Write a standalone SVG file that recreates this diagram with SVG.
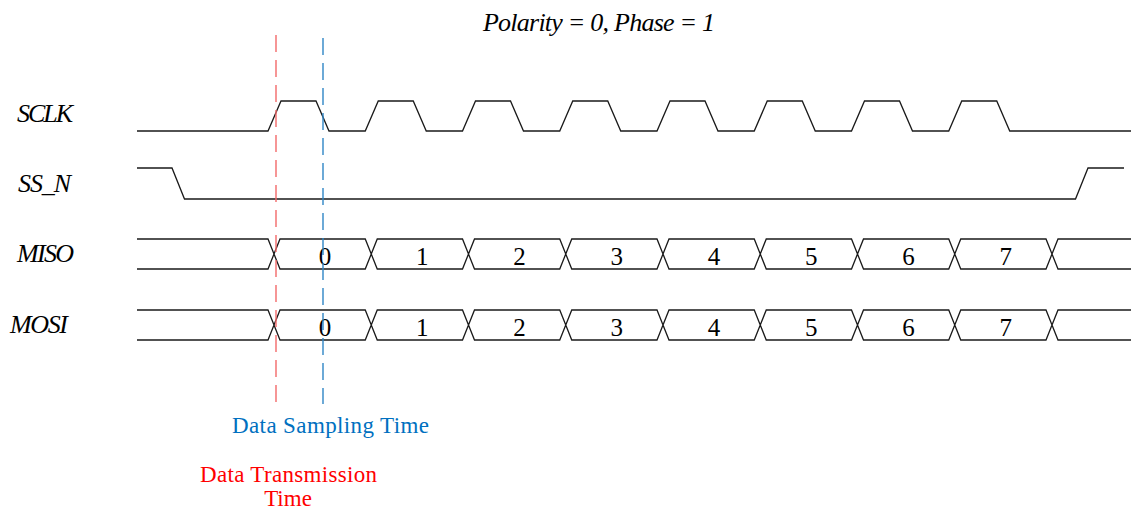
<svg xmlns="http://www.w3.org/2000/svg" width="1133" height="510" viewBox="0 0 1133 510">
<style>
.wave{fill:none;stroke:#1a1a1a;stroke-width:1.3;stroke-linejoin:miter}
.lbl{font-family:"Liberation Serif","DejaVu Serif",serif;font-style:italic;font-size:26px;fill:#000}
.dig{font-family:"Liberation Serif",serif;font-size:25px;fill:#000;text-anchor:middle}
.note{font-family:"Liberation Serif",serif;font-size:23px}
</style>
<rect width="1133" height="510" fill="#fff"/>
<text class="lbl" x="483" y="31" font-size="24" textLength="232">Polarity = 0, Phase = 1</text>
<g id="sclk">
<text class="lbl" x="17" y="122" textLength="56">SCLK</text>
<path class="wave" d="M137,131 L268,131 L281,101 L316,101 L329,131 L365.25,131 L378.25,101 L413.25,101 L426.25,131 L462.5,131 L475.5,101 L510.5,101 L523.5,131 L559.75,131 L572.75,101 L607.75,101 L620.75,131 L657,131 L670,101 L705,101 L718,131 L754.25,131 L767.25,101 L802.25,101 L815.25,131 L851.5,131 L864.5,101 L899.5,101 L912.5,131 L948.75,131 L961.75,101 L996.75,101 L1009.75,131 L1131,131"/>
</g>
<g id="ss_n">
<text class="lbl" x="18" y="192" textLength="53">SS_N</text>
<path class="wave" d="M137,168 L172,168 L184.5,199 L1075.5,199 L1088,168 L1124,168"/>
</g>
<g id="miso">
<text class="lbl" x="17" y="262" textLength="57">MISO</text>
<g id="bus">
<path class="wave" d="M137,239 L268,239 L274,254 L268,269 L137,269 M1131,239 L1058,239 L1052,254 L1058,269 L1131,269
M274,254 L280,239 L365.25,239 L371.25,254 L365.25,269 L280,269 Z
M371.25,254 L377.25,239 L462.5,239 L468.5,254 L462.5,269 L377.25,269 Z
M468.5,254 L474.5,239 L559.75,239 L565.75,254 L559.75,269 L474.5,269 Z
M565.75,254 L571.75,239 L657,239 L663,254 L657,269 L571.75,269 Z
M663,254 L669,239 L754.25,239 L760.25,254 L754.25,269 L669,269 Z
M760.25,254 L766.25,239 L851.5,239 L857.5,254 L851.5,269 L766.25,269 Z
M857.5,254 L863.5,239 L948.75,239 L954.75,254 L948.75,269 L863.5,269 Z
M954.75,254 L960.75,239 L1046,239 L1052,254 L1046,269 L960.75,269 Z"/>
<text class="dig" x="325" y="265">0</text>
<text class="dig" x="422.25" y="265">1</text>
<text class="dig" x="519.5" y="265">2</text>
<text class="dig" x="616.75" y="265">3</text>
<text class="dig" x="714" y="265">4</text>
<text class="dig" x="811.25" y="265">5</text>
<text class="dig" x="908.5" y="265">6</text>
<text class="dig" x="1005.75" y="265">7</text>
</g>
</g>
<g id="mosi">
<text class="lbl" x="10" y="333" textLength="58">MOSI</text>
<g transform="translate(0,71)">
<path class="wave" d="M137,239 L268,239 L274,254 L268,269 L137,269 M1131,239 L1058,239 L1052,254 L1058,269 L1131,269
M274,254 L280,239 L365.25,239 L371.25,254 L365.25,269 L280,269 Z
M371.25,254 L377.25,239 L462.5,239 L468.5,254 L462.5,269 L377.25,269 Z
M468.5,254 L474.5,239 L559.75,239 L565.75,254 L559.75,269 L474.5,269 Z
M565.75,254 L571.75,239 L657,239 L663,254 L657,269 L571.75,269 Z
M663,254 L669,239 L754.25,239 L760.25,254 L754.25,269 L669,269 Z
M760.25,254 L766.25,239 L851.5,239 L857.5,254 L851.5,269 L766.25,269 Z
M857.5,254 L863.5,239 L948.75,239 L954.75,254 L948.75,269 L863.5,269 Z
M954.75,254 L960.75,239 L1046,239 L1052,254 L1046,269 L960.75,269 Z"/>
<text class="dig" x="325" y="265">0</text>
<text class="dig" x="422.25" y="265">1</text>
<text class="dig" x="519.5" y="265">2</text>
<text class="dig" x="616.75" y="265">3</text>
<text class="dig" x="714" y="265">4</text>
<text class="dig" x="811.25" y="265">5</text>
<text class="dig" x="908.5" y="265">6</text>
<text class="dig" x="1005.75" y="265">7</text>
</g>
</g>
<g id="markers">
<line x1="276" y1="35" x2="276" y2="410" stroke="#f26a6a" stroke-width="1.4" stroke-dasharray="17,8"/>
<line x1="323" y1="38" x2="323" y2="404" stroke="#2f86c6" stroke-width="1.4" stroke-dasharray="17,8"/>
</g>
<g id="sampling">
<text class="note" x="232" y="433" fill="#0070c0" textLength="197">Data Sampling Time</text>
</g>
<g id="transmission">
<text class="note" x="200" y="482" fill="#ff0000" textLength="177">Data Transmission</text>
<text class="note" x="288" y="506" fill="#ff0000" text-anchor="middle">Time</text>
</g>
</svg>
